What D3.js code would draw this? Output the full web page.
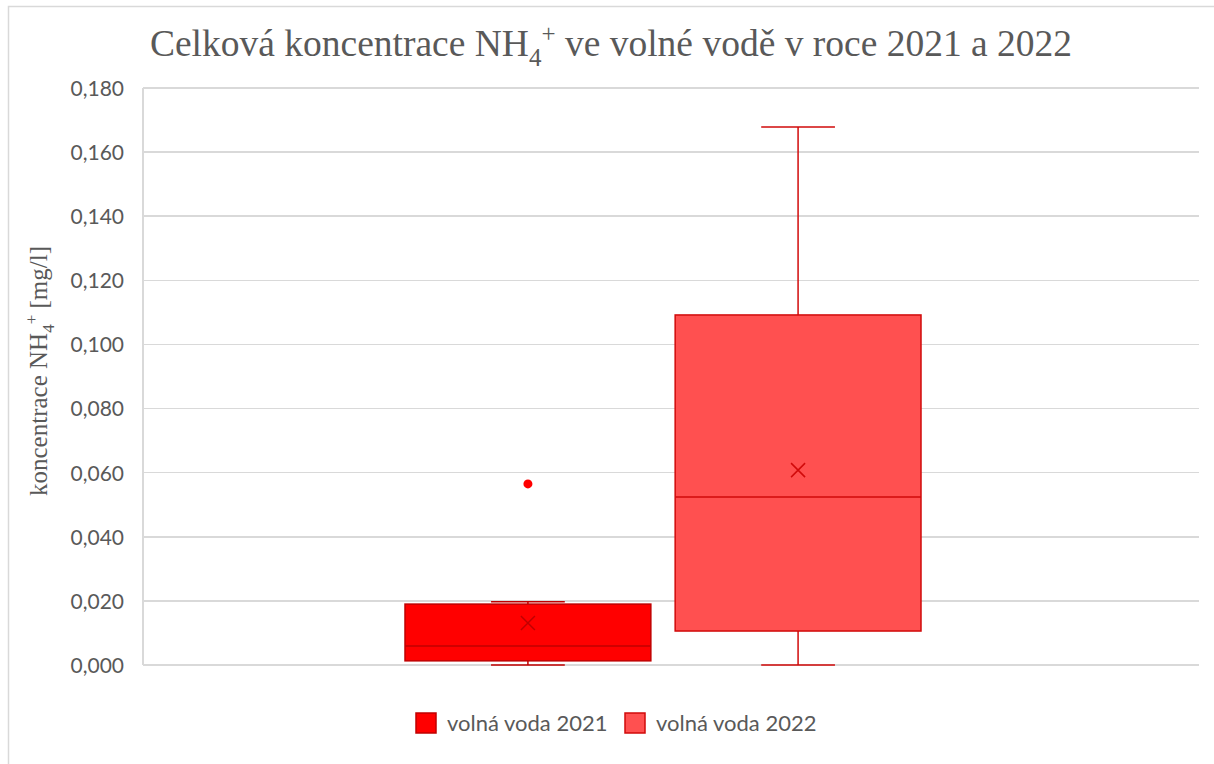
<!DOCTYPE html>
<meta charset="utf-8">
<style>
  body { margin: 0; background: #fff; }
  svg { display: block; }
  .grid line { stroke: #d9d9d9; stroke-width: 1.5; shape-rendering: crispEdges; }
  .axis text { font-family: Lato, "Open Sans", sans-serif; font-size: 21px; fill: #595959; }
  .legend text { font-family: Lato, "Open Sans", sans-serif; font-size: 22px; fill: #595959; }
</style>
<body>
<script src="https://d3js.org/d3.v7.min.js"></script>
<script>

// series and their five-number summaries
var series = ["volná voda 2021", "volná voda 2022"];
var minVals = [0.0, 0.0];
var q1Vals = [0.0013, 0.0106];
var medianVals = [0.0059, 0.0524];
var q3Vals = [0.0190, 0.1092];
var maxVals = [0.0197, 0.1678];
var meanVals = [0.0131, 0.0608];
var outliers = [[0.0565], []];
var fills = ["#ff0000", "#ff5050"];
var strokes = ["#c00000", "#d10a0a"];
var yTicks = [0, 0.02, 0.04, 0.06, 0.08, 0.10, 0.12, 0.14, 0.16, 0.18];

var W = 1214, H = 764;
var margin = {top: 88, right: 15, bottom: 99, left: 143};
var width = W - margin.left - margin.right,
    height = H - margin.top - margin.bottom;

var svg = d3.select("body").append("svg")
    .attr("width", W)
    .attr("height", H);

// outer chart frame
svg.append("rect")
    .attr("x", 8.5).attr("y", 6.5)
    .attr("width", W + 10).attr("height", H + 10)
    .attr("fill", "none").attr("stroke", "#d9d9d9").attr("stroke-width", 1.5);

var g = svg.append("g")
    .attr("transform", "translate(" + margin.left + "," + margin.top + ")");

var y = d3.scaleLinear().domain([0, 0.18]).range([height, 0]);

// the boxes sit in the middle of the category axis
var x = d3.scaleBand().domain(series).range([262, 778]).paddingInner(0.09);

var fmt = function(v) { return d3.format(".3f")(v).replace(".", ","); };

// gridlines
g.append("g").attr("class", "grid")
  .selectAll("line")
  .data(yTicks)
  .enter().append("line")
    .attr("x1", 0).attr("x2", width)
    .attr("y1", function(d) { return y(d); })
    .attr("y2", function(d) { return y(d); });

g.append("line")
    .attr("x1", 0).attr("x2", 0).attr("y1", 0).attr("y2", height)
    .attr("stroke", "#d9d9d9").attr("stroke-width", 1.5)
    .style("shape-rendering", "crispEdges");

// y axis labels
var axis = g.append("g").attr("class", "axis")
    .call(d3.axisLeft(y).tickValues(yTicks).tickFormat(fmt).tickSize(0).tickPadding(19));
axis.select(".domain").remove();
axis.selectAll("text").attr("dy", "0.35em");

// boxes
var data = series.map(function(s, i) {
  return {name: s, min: minVals[i], q1: q1Vals[i], med: medianVals[i], q3: q3Vals[i],
          max: maxVals[i], mean: meanVals[i], out: outliers[i], fill: fills[i], stroke: strokes[i]};
});

var box = g.selectAll(".box")
  .data(data)
  .enter().append("g")
    .attr("class", "box")
    .attr("transform", function(d) { return "translate(" + x(d.name) + ",0)"; });

var bw = x.bandwidth(), cx = bw / 2, capW = bw * 0.3;

// whiskers
box.append("line")
    .attr("x1", cx).attr("x2", cx)
    .attr("y1", function(d) { return y(d.max); })
    .attr("y2", function(d) { return y(d.q3); })
    .attr("stroke", function(d) { return d.stroke; }).attr("stroke-width", 1.5);
box.append("line")
    .attr("x1", cx).attr("x2", cx)
    .attr("y1", function(d) { return y(d.q1); })
    .attr("y2", function(d) { return y(d.min); })
    .attr("stroke", function(d) { return d.stroke; }).attr("stroke-width", 1.5);
box.append("line")
    .attr("x1", cx - capW / 2).attr("x2", cx + capW / 2)
    .attr("y1", function(d) { return y(d.max); })
    .attr("y2", function(d) { return y(d.max); })
    .attr("stroke", function(d) { return d.stroke; }).attr("stroke-width", 1.5);
box.append("line")
    .attr("x1", cx - capW / 2).attr("x2", cx + capW / 2)
    .attr("y1", function(d) { return y(d.min); })
    .attr("y2", function(d) { return y(d.min); })
    .attr("stroke", function(d) { return d.stroke; }).attr("stroke-width", 1.5);

box.append("rect")
    .attr("x", 0).attr("width", bw)
    .attr("y", function(d) { return y(d.q3); })
    .attr("height", function(d) { return y(d.q1) - y(d.q3); })
    .attr("fill", function(d) { return d.fill; })
    .attr("stroke", function(d) { return d.stroke; }).attr("stroke-width", 1.5);

box.append("line")
    .attr("x1", 0).attr("x2", bw)
    .attr("y1", function(d) { return y(d.med); })
    .attr("y2", function(d) { return y(d.med); })
    .attr("stroke", function(d) { return d.stroke; }).attr("stroke-width", 1.5);

// mean marker (x)
box.append("path")
    .attr("d", function(d) {
      var my = y(d.mean), s = 7;
      return "M" + (cx - s) + "," + (my - s) + "L" + (cx + s) + "," + (my + s) +
             "M" + (cx - s) + "," + (my + s) + "L" + (cx + s) + "," + (my - s);
    })
    .attr("fill", "none")
    .attr("stroke", function(d) { return d.stroke; }).attr("stroke-width", 1.5);

// outliers
box.selectAll(".out")
  .data(function(d) { return d.out.map(function(v) { return {v: v, fill: d.fill}; }); })
  .enter().append("circle")
    .attr("class", "out")
    .attr("cx", cx)
    .attr("cy", function(d) { return y(d.v); })
    .attr("r", 4.5)
    .attr("fill", function(d) { return d.fill; });

// title
var title = svg.append("text")
    .attr("x", 611).attr("y", 56)
    .attr("text-anchor", "middle")
    .style("font-family", "'Liberation Serif', 'Times New Roman', serif")
    .style("font-size", "37.5px")
    .attr("fill", "#595959");
title.append("tspan").text("Celková koncentrace NH");
title.append("tspan").text("4").attr("dy", 10).style("font-size", "25px");
title.append("tspan").text("+").attr("dy", -24).style("font-size", "25px");
title.append("tspan").text(" ve volné vodě v roce 2021 a 2022").attr("dy", 14);

// y axis title
var yt = svg.append("text")
    .attr("transform", "translate(47,371) rotate(-90)")
    .attr("text-anchor", "middle")
    .style("font-family", "'Liberation Serif', 'Times New Roman', serif")
    .style("font-size", "25px")
    .attr("fill", "#595959");
yt.append("tspan").text("koncentrace NH");
yt.append("tspan").text("4").attr("dy", 7).style("font-size", "17px");
yt.append("tspan").text("+").attr("dy", -17).style("font-size", "17px");
yt.append("tspan").text(" [mg/l]").attr("dy", 10);

// legend
var legX = [416, 625];
var leg = svg.append("g").attr("class", "legend")
  .selectAll("g")
  .data(data)
  .enter().append("g")
    .attr("transform", function(d, i) { return "translate(" + legX[i] + ",713)"; });
leg.append("rect")
    .attr("width", 20).attr("height", 20)
    .attr("fill", function(d) { return d.fill; })
    .attr("stroke", function(d) { return d.stroke; }).attr("stroke-width", 1.5);
leg.append("text")
    .attr("x", 31).attr("y", 10).attr("dy", "0.35em")
    .text(function(d) { return d.name; });

</script>
</body>
